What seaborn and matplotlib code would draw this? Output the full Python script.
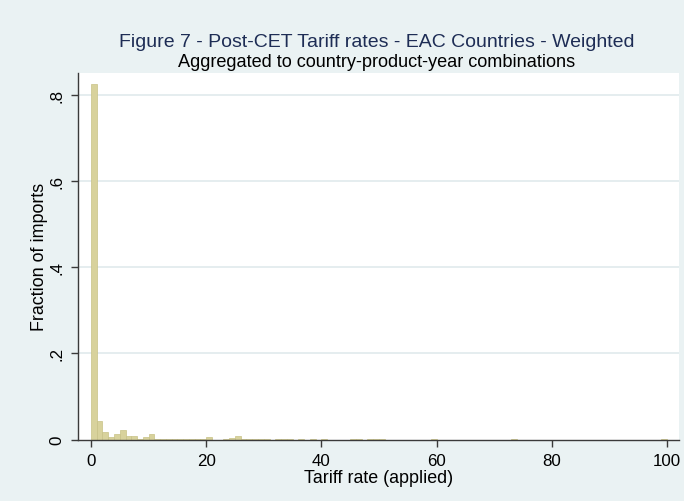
import numpy as np
import pandas as pd
import matplotlib
matplotlib.use("Agg")
import matplotlib.pyplot as plt
import seaborn as sns

# Applied tariff rate bins (left edge, percent) and the fraction of imports in each
bin_left = [0, 1, 2, 3, 4, 5, 6, 7, 8, 9, 10, 11, 12, 13, 14, 15, 16, 17, 18, 19,
            20, 23, 24, 25, 26, 27, 28, 29, 30, 32, 33, 34, 36, 38, 40, 45, 46,
            48, 49, 50, 59, 73, 99]
fraction = [0.826, 0.043, 0.017, 0.006, 0.012, 0.021, 0.007, 0.007, 0.002, 0.005,
            0.012, 0.001, 0.001, 0.001, 0.001, 0.001, 0.002, 0.001, 0.001, 0.001,
            0.006, 0.001, 0.004, 0.007, 0.002, 0.001, 0.001, 0.001, 0.001, 0.001,
            0.001, 0.001, 0.001, 0.001, 0.001, 0.001, 0.001, 0.001, 0.001, 0.001,
            0.001, 0.001, 0.001]

y_ticks = [0, 0.2, 0.4, 0.6, 0.8]
y_tick_labels = ["0", ".2", ".4", ".6", ".8"]
x_ticks = [0, 20, 40, 60, 80, 100]
x_tick_labels = ["0", "20", "40", "60", "80", "100"]

title = "Figure 7 - Post-CET Tariff rates - EAC Countries - Weighted"
subtitle = "Aggregated to country-product-year combinations"

df = pd.DataFrame({"rate": np.asarray(bin_left, dtype=float) + 0.5,
                   "fraction": np.asarray(fraction, dtype=float)})

sns.set_style("white")
plt.rcParams["font.family"] = ["Liberation Sans", "DejaVu Sans"]

W, H = 684, 502
bg = "#eaf2f3"
fig = plt.figure(figsize=(W / 100, H / 100), dpi=100, facecolor=bg)

left, right, top, bottom = 78.3, 679, 74, 440.5
ax = fig.add_axes([left / W, 1 - bottom / H, (right - left) / W, (bottom - top) / H])
ax.set_facecolor("white")

sns.histplot(data=df, x="rate", weights="fraction", binwidth=1, binrange=(0, 100),
             stat="count", color="#d8d29c", edgecolor="#c8c286", linewidth=0.5,
             alpha=1.0, ax=ax, zorder=3)

ax.set_xlim(-2.2, 102.1)
ax.set_ylim(0, 0.851)

# horizontal grid lines
for yv in y_ticks[1:]:
    ax.axhline(yv, color="#e3ecee", linewidth=1.3, zorder=1)

for side in ["top", "right"]:
    ax.spines[side].set_visible(False)
for side in ["left", "bottom"]:
    ax.spines[side].set_color("#3a3a3a")
    ax.spines[side].set_linewidth(1.0)
    ax.spines[side].set_zorder(5)

tick_fs = 12.2
ax.set_xticks(x_ticks)
ax.set_xticklabels(x_tick_labels, fontsize=tick_fs)
ax.set_yticks(y_ticks)
ax.set_yticklabels(y_tick_labels, fontsize=tick_fs, rotation=90, va="center")
ax.tick_params(axis="both", direction="out", length=5, width=1.0, color="#3a3a3a",
               labelcolor="black", bottom=True, left=True)
ax.tick_params(axis="x", pad=5)
ax.tick_params(axis="y", pad=5)

ax.set_xlabel("")
ax.set_ylabel("")
fig.text(40 / W, 1 - 257 / H, "Fraction of imports", rotation=90,
         ha="center", va="center", fontsize=12.9, color="black")
fig.text(378.5 / W, 1 - 482.7 / H, "Tariff rate (applied)",
         ha="center", va="baseline", fontsize=12.9, color="black")

fig.text(376.5 / W, 1 - 46.7 / H, title, ha="center", va="baseline",
         fontsize=14.0, color="#1e2d55")
fig.text(376.5 / W, 1 - 66.7 / H, subtitle, ha="center", va="baseline",
         fontsize=13.1, color="black")

fig.savefig("out.png", dpi=100, facecolor=bg)
